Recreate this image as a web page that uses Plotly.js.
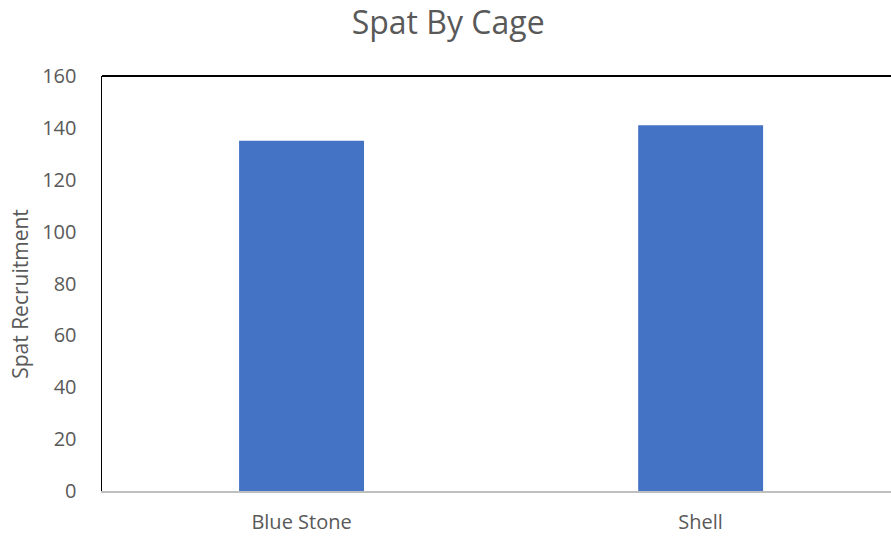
<!DOCTYPE html>
<html>
<head>
<meta charset="utf-8">
<script src="https://cdn.plot.ly/plotly-3.0.1.min.js"></script>
<style>html,body{margin:0;padding:0;background:#fff;}#chart{width:891px;height:539px;}</style>
</head>
<body>
<div id="chart"></div>
<script>
var categories = ["Blue Stone", "Shell"];
var spatValues = [135, 141];
var yTicks = [0, 20, 40, 60, 80, 100, 120, 140, 160];
var yTitle = "Spat Recruitment";

var FONT = "Open Sans, Liberation Sans, Arial, sans-serif";
var trace = {
  type: "bar",
  x: categories,
  y: spatValues,
  marker: {color: "#4472C4"},
  hoverinfo: "none"
};
var layout = {
  width: 891, height: 539,
  margin: {l: 102, r: 0, t: 76, b: 48, pad: 0},
  paper_bgcolor: "#fff", plot_bgcolor: "#fff",
  bargap: 0.687,
  showlegend: false,
  title: {text: "Spat By Cage", font: {family: FONT, size: 32, color: "#595959"}, x: 0.503, xanchor: "center", y: 0.958, yanchor: "middle"},
  xaxis: {
    range: [-0.5, 1.477],
    showline: true, linecolor: "#BFBFBF", linewidth: 1.5,
    showgrid: false, ticks: "", zeroline: false,
    tickfont: {family: FONT, size: 20, color: "#595959"},
    ticklabelstandoff: 12
  },
  yaxis: {
    range: [0, 160], tickvals: yTicks,
    showline: true, linecolor: "#000", linewidth: 1.5,
    showgrid: false, zeroline: false, ticks: "",
    tickfont: {family: FONT, size: 20, color: "#595959"},
    ticklabelstandoff: 20
  },
  annotations: [{
    text: yTitle, textangle: -90, showarrow: false,
    xref: "paper", yref: "paper", x: -0.104, y: 0.475,
    xanchor: "center", yanchor: "middle",
    font: {family: FONT, size: 21, color: "#595959"}
  }],
  shapes: [{type: "line", xref: "paper", yref: "paper", x0: 0, x1: 1, y0: 1, y1: 1, line: {color: "#000", width: 2}}]
};
Plotly.newPlot("chart", [trace], layout, {displayModeBar: false, staticPlot: true});
</script>
</body>
</html>
